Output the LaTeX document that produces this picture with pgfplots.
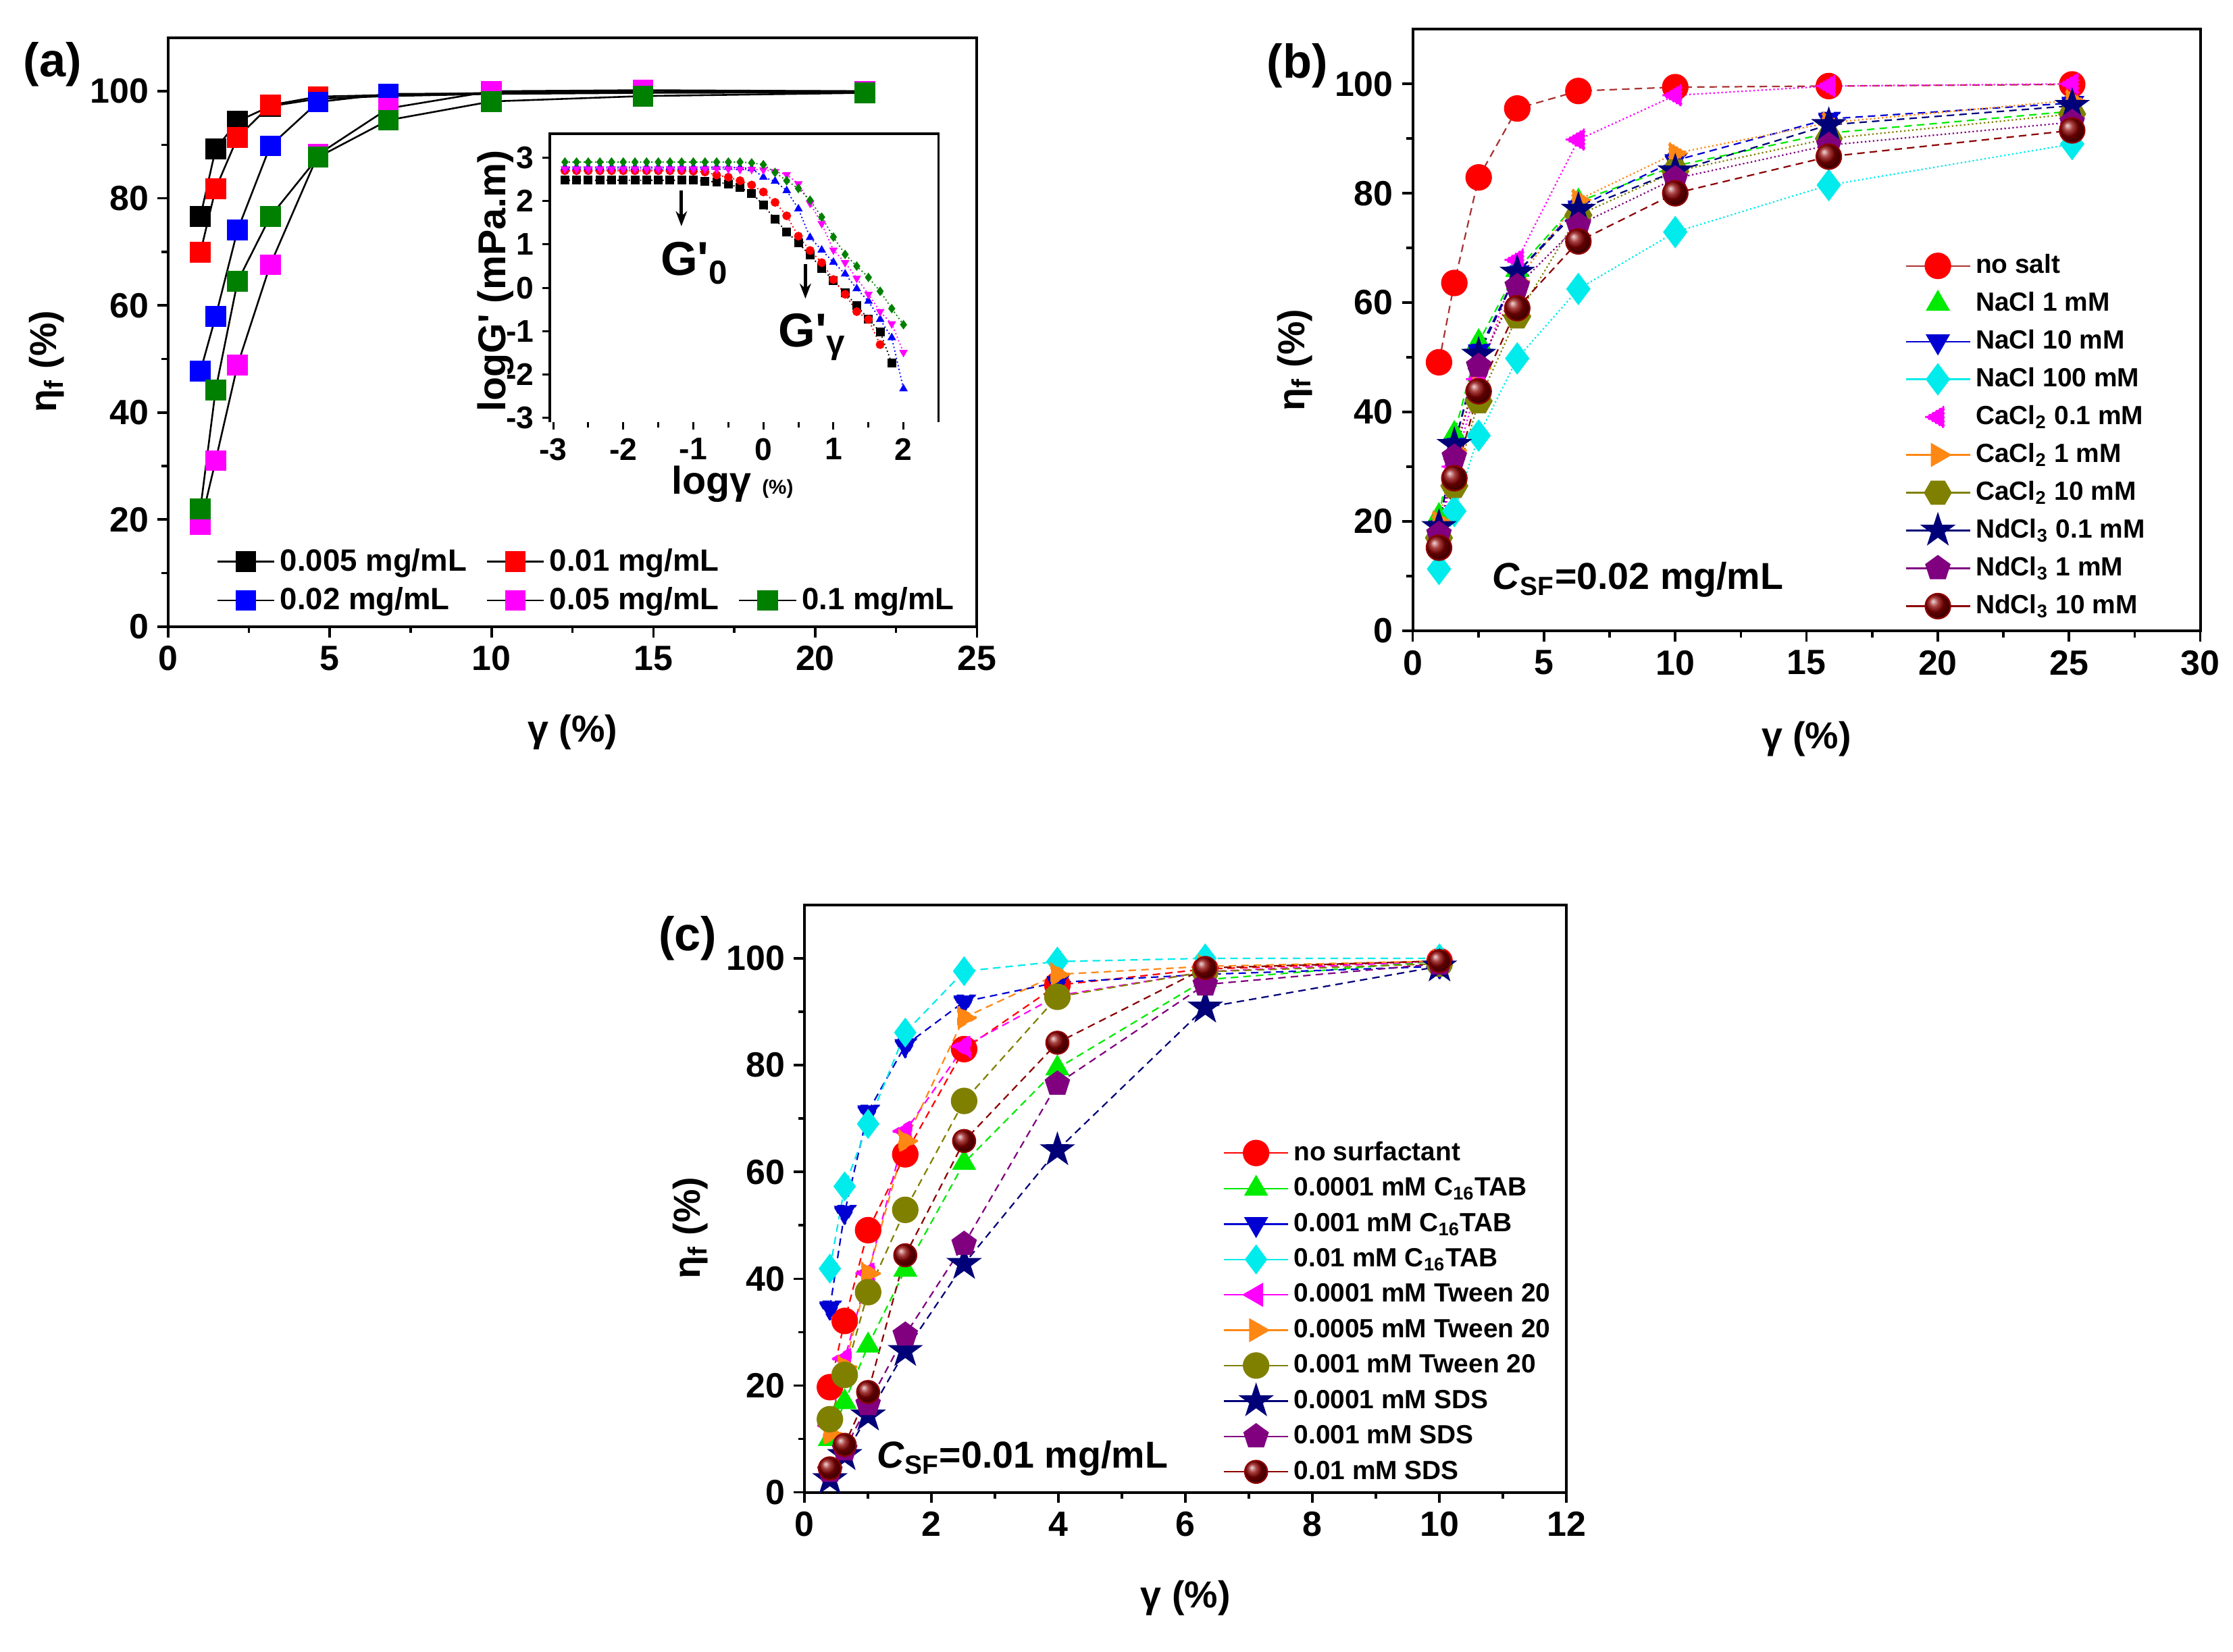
\documentclass[border=0pt]{standalone}
\usepackage{fontspec}
\setmainfont{Liberation Sans}
\usepackage{pgfplots}
\pgfplotsset{compat=1.18}
\usetikzlibrary{arrows.meta}

\definecolor{cred}{RGB}{255,0,0}
\definecolor{cgreen}{RGB}{0,128,0}
\definecolor{cblue}{RGB}{0,0,255}
\definecolor{cmag}{RGB}{255,0,255}
\definecolor{lgreen}{RGB}{0,235,0}
\definecolor{dblue}{RGB}{0,0,210}
\definecolor{ccyan}{RGB}{0,235,235}
\definecolor{corange}{RGB}{255,135,20}
\definecolor{colive}{RGB}{128,128,0}
\definecolor{cnavy}{RGB}{0,0,120}
\definecolor{cpurple}{RGB}{128,0,128}
\definecolor{cdred}{RGB}{140,0,0}
\definecolor{lred}{RGB}{170,50,50}

% filled five-point star
\pgfdeclareplotmark{fstar}{%
  \pgfpathmoveto{\pgfpointpolar{90}{1.3\pgfplotmarksize}}%
  \pgfpathlineto{\pgfpointpolar{126}{0.5\pgfplotmarksize}}%
  \pgfpathlineto{\pgfpointpolar{162}{1.3\pgfplotmarksize}}%
  \pgfpathlineto{\pgfpointpolar{198}{0.5\pgfplotmarksize}}%
  \pgfpathlineto{\pgfpointpolar{234}{1.3\pgfplotmarksize}}%
  \pgfpathlineto{\pgfpointpolar{270}{0.5\pgfplotmarksize}}%
  \pgfpathlineto{\pgfpointpolar{306}{1.3\pgfplotmarksize}}%
  \pgfpathlineto{\pgfpointpolar{342}{0.5\pgfplotmarksize}}%
  \pgfpathlineto{\pgfpointpolar{18}{1.3\pgfplotmarksize}}%
  \pgfpathlineto{\pgfpointpolar{54}{0.5\pgfplotmarksize}}%
  \pgfpathclose\pgfusepathqfillstroke}
% filled hexagon
\pgfdeclareplotmark{hexa}{%
  \pgfpathmoveto{\pgfpointpolar{0}{1.05\pgfplotmarksize}}%
  \pgfpathlineto{\pgfpointpolar{60}{1.05\pgfplotmarksize}}%
  \pgfpathlineto{\pgfpointpolar{120}{1.05\pgfplotmarksize}}%
  \pgfpathlineto{\pgfpointpolar{180}{1.05\pgfplotmarksize}}%
  \pgfpathlineto{\pgfpointpolar{240}{1.05\pgfplotmarksize}}%
  \pgfpathlineto{\pgfpointpolar{300}{1.05\pgfplotmarksize}}%
  \pgfpathclose\pgfusepathqfillstroke}

\pgfplotsset{
  panel/.style={
    scale only axis, anchor=south west,
    ymin=0, ymax=110, ytick={0,20,...,100},
    minor x tick num=1, minor y tick num=1,
    tick align=outside, xtick pos=bottom, ytick pos=left,
    axis line style={line width=1.1pt},
    major tick length=0.15cm, minor tick length=0.09cm,
    every tick/.append style={line width=1pt, black},
    /pgf/number format/assume math mode=true,
    tick label style={font=\fontsize{14}{14}\selectfont\bfseries},
    xlabel={γ (\%)}, ylabel={η\textsubscript{f} (\%)},
    label style={font=\fontsize{15}{15}\selectfont\bfseries},
    xlabel style={at={(axis description cs:0.5,-0.18)}, anchor=center},
    ylabel style={at={(axis description cs:-0.15,0.45)}, anchor=center},
    legend cell align=left,
  },
  sq/.style={black, line width=0.7pt, mark=square*, mark size=3.8pt,
    mark options={solid, fill=#1, draw=#1}},
  big/.style={line width=0.6pt, mark size=5pt, mark options={solid, fill=#1, draw=#1}, #1},
  noline/.style={legend image code/.code={\draw[only marks] plot coordinates {(0.45cm,0cm)};}},
  solidleg/.style={legend image code/.code={\draw[mark repeat=2, mark phase=2, solid]
    plot coordinates {(0cm,0cm) (0.45cm,0cm) (0.9cm,0cm)};}},
}

\begin{document}
\begin{tikzpicture}
\path[use as bounding box] (0,0) rectangle (31.36cm,23.2cm);

\node[font=\fontsize{19}{19}\selectfont\bfseries] at (0.74cm,22.3cm) {(a)};
\node[font=\fontsize{19}{19}\selectfont\bfseries] at (18.22cm,22.28cm) {(b)};
\node[font=\fontsize{19}{19}\selectfont\bfseries] at (9.66cm,10.02cm) {(c)};

% ---------------- panel (a)
\begin{axis}[panel, at={(2.36cm,14.40cm)}, width=11.36cm, height=8.27cm,
    xmin=0, xmax=25, xtick={0,5,...,25},
    legend columns=3,
    legend style={draw=none, fill=none, at={(0.05,0.15)}, anchor=north west,
      font=\fontsize{12.3}{12.3}\selectfont\bfseries, column sep=0pt, row sep=1pt,
      /tikz/every even column/.append style={column sep=0.2cm}},
    legend image code/.code={\draw[mark repeat=2, mark phase=2]
      plot coordinates {(0cm,0cm) (0.4cm,0cm) (0.8cm,0cm)};},
  ]
\addplot[sq=black] coordinates {(1,76.6) (1.47,89.2) (2.15,94.4) (3.16,97.2) (4.64,98.6) (6.81,99.1) (10,99.5) (14.68,99.7) (21.54,99.8)};
\addlegendentry{0.005 mg/mL}
\addplot[sq=cred] coordinates {(1,69.9) (1.47,81.8) (2.15,91.4) (3.16,97.4) (4.64,99.0) (6.81,99.3) (10,99.7) (14.68,100.1) (21.54,100.0)};
\addlegendentry{0.01 mg/mL}
\addlegendimage{empty legend}\addlegendentry{}
\addplot[sq=cblue] coordinates {(1,47.7) (1.47,57.9) (2.15,74.1) (3.16,89.8) (4.64,98.0) (6.81,99.5) (10,99.6) (14.68,99.8) (21.54,100.0)};
\addlegendentry{0.02 mg/mL}
\addplot[sq=cmag] coordinates {(1,19.0) (1.47,31.0) (2.15,48.9) (3.16,67.6) (4.64,88.2) (6.81,96.8) (10,100.0) (14.68,100.2) (21.54,100.0)};
\addlegendentry{0.05 mg/mL}
\addplot[sq=cgreen] coordinates {(1,22.0) (1.47,44.2) (2.15,64.5) (3.16,76.6) (4.64,87.7) (6.81,94.6) (10,98.1) (14.68,99.1) (21.54,99.7)};
\addlegendentry{0.1 mg/mL}
\end{axis}

% ---------------- inset of (a)
\begin{axis}[scale only axis, anchor=south west, at={(7.72cm,17.27cm)}, width=5.46cm, height=4.05cm,
    xmin=-3.05, xmax=2.5, ymin=-3.1, ymax=3.55,
    xtick={-3,...,2}, ytick={-3,...,3}, minor x tick num=1,
    tick align=outside, xtick pos=bottom, ytick pos=left,
    axis line style={draw=none}, clip=false,
    major tick length=0.1cm, minor tick length=0.07cm,
    every tick/.append style={line width=0.8pt, black},
    /pgf/number format/assume math mode=true,
    tick label style={font=\fontsize{12.5}{12.5}\selectfont\bfseries},
    xlabel={logγ {\fontsize{8}{8}\selectfont(\%)}}, ylabel={logG\textquotesingle{} (mPa.m)},
    label style={font=\fontsize{15.5}{15.5}\selectfont\bfseries},
    xlabel style={at={(axis description cs:0.47,-0.215)}, anchor=center},
    ylabel style={at={(axis description cs:-0.14,0.49)}, anchor=center},
    every axis plot/.append style={densely dotted, line width=0.5pt, mark size=1.5pt},
  ]
\draw[line width=1pt] (rel axis cs:0,0) -- (rel axis cs:0,1) -- (rel axis cs:1,1) -- (rel axis cs:1,0);
\addplot[black, mark=square*, mark options={solid}] coordinates {
(-2.833,2.48) (-2.667,2.48) (-2.5,2.48) (-2.333,2.48) (-2.167,2.48) (-2.0,2.48) (-1.833,2.48) (-1.667,2.48) (-1.5,2.48) (-1.333,2.48) (-1.167,2.48) (-1.0,2.48)
(-0.833,2.46) (-0.667,2.44) (-0.5,2.39) (-0.333,2.31) (-0.167,2.18) (0,1.91) (0.167,1.58) (0.333,1.29) (0.5,1.03) (0.667,0.75) (0.833,0.45) (1.0,0.17)
(1.167,-0.12) (1.333,-0.41) (1.5,-0.72) (1.667,-1.02) (1.833,-1.74)};
\addplot[cred, mark=*, mark options={solid}] coordinates {
(-2.833,2.70) (-2.667,2.70) (-2.5,2.70) (-2.333,2.70) (-2.167,2.70) (-2.0,2.70) (-1.833,2.70) (-1.667,2.70) (-1.5,2.70) (-1.333,2.70) (-1.167,2.70) (-1.0,2.69)
(-0.833,2.67) (-0.667,2.60) (-0.5,2.55) (-0.333,2.47) (-0.167,2.37) (0,2.21) (0.167,1.97) (0.333,1.66) (0.5,1.19) (0.667,0.86) (0.833,0.58) (1.0,0.19)
(1.167,-0.15) (1.333,-0.55) (1.5,-0.73) (1.667,-1.31)};
\addplot[cblue, mark=triangle*, mark options={solid}] coordinates {
(-2.833,2.78) (-2.667,2.78) (-2.5,2.78) (-2.333,2.78) (-2.167,2.78) (-2.0,2.78) (-1.833,2.78) (-1.667,2.78) (-1.5,2.78) (-1.333,2.78) (-1.167,2.78) (-1.0,2.78)
(-0.833,2.78) (-0.667,2.78) (-0.5,2.78) (-0.333,2.77) (-0.167,2.75) (0,2.55) (0.167,2.46) (0.333,2.24) (0.5,1.82) (0.667,1.16) (0.833,0.87) (1.0,0.59)
(1.167,0.32) (1.333,-0.02) (1.5,-0.31) (1.667,-0.73) (1.833,-1.15) (2.0,-2.33)};
\addplot[cmag, mark=triangle*, mark options={solid, rotate=180}] coordinates {
(-2.833,2.74) (-2.667,2.74) (-2.5,2.74) (-2.333,2.74) (-2.167,2.74) (-2.0,2.74) (-1.833,2.74) (-1.667,2.74) (-1.5,2.74) (-1.333,2.74) (-1.167,2.74) (-1.0,2.74)
(-0.833,2.74) (-0.667,2.74) (-0.5,2.74) (-0.333,2.73) (-0.167,2.73) (0,2.72) (0.167,2.68) (0.333,2.61) (0.5,2.40) (0.667,1.95) (0.833,1.48) (1.0,0.87)
(1.167,0.58) (1.333,0.22) (1.5,-0.15) (1.667,-0.55) (1.833,-0.83) (2.0,-1.49)};
\addplot[cgreen, mark=diamond*, mark options={solid}] coordinates {
(-2.833,2.90) (-2.667,2.90) (-2.5,2.90) (-2.333,2.90) (-2.167,2.90) (-2.0,2.90) (-1.833,2.90) (-1.667,2.90) (-1.5,2.90) (-1.333,2.90) (-1.167,2.90) (-1.0,2.90)
(-0.833,2.90) (-0.667,2.90) (-0.5,2.90) (-0.333,2.90) (-0.167,2.88) (0,2.84) (0.167,2.66) (0.333,2.47) (0.5,2.29) (0.667,2.02) (0.833,1.63) (1.0,1.17)
(1.167,0.77) (1.333,0.50) (1.5,0.24) (1.667,-0.08) (1.833,-0.48) (2.0,-0.85)};
\draw[-{Stealth[length=6pt]}, line width=1.3pt] (axis cs:-1.17,2.25) -- (axis cs:-1.17,1.42);
\draw[-{Stealth[length=6pt]}, line width=1.3pt] (axis cs:0.6,0.55) -- (axis cs:0.6,-0.25);
\node[font=\fontsize{19}{19}\selectfont\bfseries] at (axis cs:-0.98,0.57) {G\textquotesingle\textsubscript{0}};
\node[font=\fontsize{19}{19}\selectfont\bfseries] at (axis cs:0.70,-1.14) {G\textquotesingle\textsubscript{γ}};
\end{axis}

% ---------------- panel (b)
\begin{axis}[panel, at={(19.84cm,14.34cm)}, width=11.06cm, height=8.45cm,
    xmin=0, xmax=30, xtick={0,5,...,30},
    legend style={draw=none, fill=none, at={(0.615,0.643)}, anchor=north west,
      font=\fontsize{10.5}{10.5}\selectfont\bfseries, row sep=2pt},
    solidleg,
  ]
\addplot[big=cred, draw=lred, densely dashed, mark=*] coordinates {(1,49.1) (1.585,63.6) (2.512,82.9) (3.981,95.5) (6.31,98.7) (10,99.4) (15.85,99.6) (25.12,99.9)};
\addlegendentry{no salt}
\addplot[big=lgreen, densely dashed, mark=triangle*, noline] coordinates {(1,21) (1.585,36) (2.512,52.8) (3.981,66) (6.31,78.5) (10,85) (15.85,91) (25.12,95)};
\addlegendentry{NaCl 1 mM}
\addplot[big=dblue, densely dashed, mark=triangle*, mark options={rotate=180}] coordinates {(1,19) (1.585,34) (2.512,51.2) (3.981,65.5) (6.31,77.5) (10,86) (15.85,93.6) (25.12,96.5)};
\addlegendentry{ NaCl 10 mM}
\addplot[big=ccyan, densely dotted, mark=diamond*, mark size=6pt] coordinates {(1,11.3) (1.585,21.9) (2.512,35.7) (3.981,49.8) (6.31,62.5) (10,72.9) (15.85,81.5) (25.12,89)};
\addlegendentry{NaCl 100 mM}
\addplot[big=cmag, densely dotted, mark=triangle*, mark options={rotate=90}, noline] coordinates {(1,17) (1.585,30) (2.512,46) (3.981,67.8) (6.31,89.8) (10,97.9) (15.85,99.6) (25.12,100)};
\addlegendentry{CaCl\textsubscript{2} 0.1 mM}
\addplot[big=corange, densely dotted, mark=triangle*, mark options={rotate=-90}] coordinates {(1,20) (1.585,33) (2.512,48) (3.981,64) (6.31,78.8) (10,87.3) (15.85,92.9) (25.12,97)};
\addlegendentry{CaCl\textsubscript{2} 1 mM}
\addplot[big=colive, densely dotted, mark=hexa] coordinates {(1,17) (1.585,26.5) (2.512,42) (3.981,57.5) (6.31,76) (10,84) (15.85,90) (25.12,94.5)};
\addlegendentry{CaCl\textsubscript{2} 10 mM}
\addplot[big=cnavy, densely dashed, mark=fstar] coordinates {(1,19) (1.585,34) (2.512,50.5) (3.981,65.5) (6.31,77) (10,84) (15.85,92.5) (25.12,96)};
\addlegendentry{NdCl\textsubscript{3} 0.1 mM}
\addplot[big=cpurple, densely dotted, mark=pentagon*] coordinates {(1,17.7) (1.585,31.8) (2.512,48.4) (3.981,63) (6.31,74.2) (10,82.7) (15.85,88.8) (25.12,93)};
\addlegendentry{NdCl\textsubscript{3} 1 mM}
\addplot[cdred, line width=0.6pt, densely dashed, mark=ball, mark size=5pt, mark options={solid, ball color=cdred}] coordinates {(1,15.2) (1.585,27.9) (2.512,43.8) (3.981,59) (6.31,71.2) (10,80) (15.85,86.7) (25.12,91.5)};
\addlegendentry{NdCl\textsubscript{3} 10 mM}
\node[font=\fontsize{15}{15}\selectfont\bfseries] at (axis description cs:0.286,0.085) {\textit{C}\textsubscript{SF}=0.02 mg/mL};
\end{axis}

% ---------------- panel (c)
\begin{axis}[panel, at={(11.3cm,2.24cm)}, width=10.7cm, height=8.25cm,
    xmin=0, xmax=12, xtick={0,2,...,12},
    legend style={draw=none, fill=none, at={(0.539,0.615)}, anchor=north west,
      font=\fontsize{10.5}{10.5}\selectfont\bfseries, row sep=1.3pt},
    solidleg,
    every axis plot/.append style={mark size=4.5pt},
  ]
\addplot[big=cred, densely dashed, mark=*] coordinates {(0.398,19.7) (0.631,32.1) (1,49.1) (1.585,63.3) (2.512,83) (3.981,95) (6.31,98) (10,99.5)};
\addlegendentry{no surfactant}
\addplot[big=lgreen, densely dashed, mark=triangle*] coordinates {(0.398,10) (0.631,16.9) (1,27.5) (1.585,41.7) (2.512,61.7) (3.981,79.4) (6.31,96) (10,99.5)};
\addlegendentry{0.0001 mM C\textsubscript{16}TAB}
\addplot[big=dblue, densely dashed, mark=triangle*, mark options={rotate=180}] coordinates {(0.398,34.6) (0.631,52.5) (1,71.3) (1.585,83.7) (2.512,91.9) (3.981,95.5) (6.31,97) (10,98.5)};
\addlegendentry{ 0.001 mM C\textsubscript{16}TAB}
\addplot[big=ccyan, densely dashed, mark=diamond*, mark size=5.5pt] coordinates {(0.398,41.9) (0.631,57.3) (1,69) (1.585,86.1) (2.512,97.6) (3.981,99.4) (6.31,100) (10,100)};
\addlegendentry{0.01 mM C\textsubscript{16}TAB}
\addplot[big=cmag, densely dashed, mark=triangle*, mark options={rotate=90}] coordinates {(0.398,12.5) (0.631,25) (1,41) (1.585,67.6) (2.512,83.5) (3.981,93) (6.31,97.5) (10,99.5)};
\addlegendentry{0.0001 mM Tween 20}
\addplot[big=corange, densely dashed, mark=triangle*, mark options={rotate=-90}] coordinates {(0.398,11) (0.631,23.5) (1,41) (1.585,65.8) (2.512,88.9) (3.981,97) (6.31,98.5) (10,99.5)};
\addlegendentry{0.0005 mM Tween 20}
\addplot[big=colive, densely dashed, mark=*] coordinates {(0.398,13.7) (0.631,22) (1,37.5) (1.585,52.9) (2.512,73.3) (3.981,92.8) (6.31,97.5) (10,99)};
\addlegendentry{0.001 mM Tween 20}
\addplot[big=cnavy, densely dashed, mark=fstar] coordinates {(0.398,2.5) (0.631,7) (1,14.4) (1.585,26.5) (2.512,42.8) (3.981,64.1) (6.31,90.8) (10,98.5)};
\addlegendentry{0.0001 mM SDS}
\addplot[big=cpurple, densely dashed, mark=pentagon*] coordinates {(0.398,4) (0.631,8) (1,16.5) (1.585,29.5) (2.512,46.5) (3.981,76.5) (6.31,95.1) (10,99)};
\addlegendentry{0.001 mM SDS}
\addplot[cdred, line width=0.6pt, densely dashed, mark=ball, mark size=4.5pt, mark options={solid, ball color=cdred}] coordinates {(0.398,4.5) (0.631,8.9) (1,18.8) (1.585,44.4) (2.512,65.8) (3.981,84.2) (6.31,98.2) (10,99.5)};
\addlegendentry{0.01 mM SDS}
\node[font=\fontsize{15}{15}\selectfont\bfseries] at (axis description cs:0.286,0.058) {\textit{C}\textsubscript{SF}=0.01 mg/mL};
\end{axis}
\end{tikzpicture}
\end{document}
